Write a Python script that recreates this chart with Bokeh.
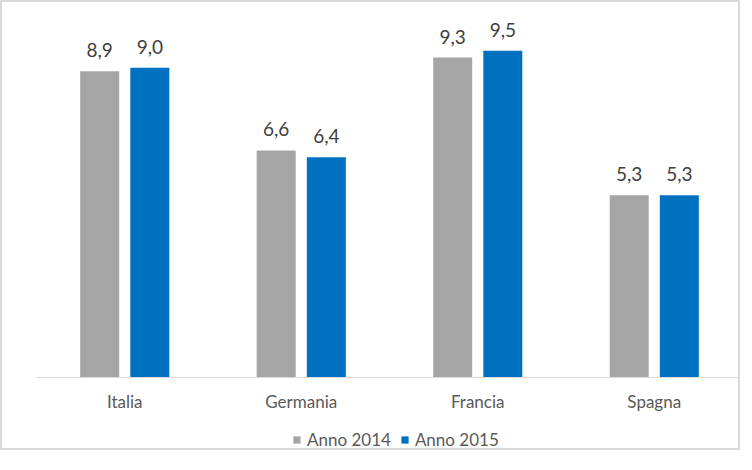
from bokeh.plotting import figure
from bokeh.models import ColumnDataSource, FactorRange, LabelSet, Legend, LegendItem
from bokeh.core.properties import value
from bokeh.transform import dodge
from bokeh.embed import file_html
from bokeh.resources import INLINE

categories = ["Italia", "Germania", "Francia", "Spagna"]
anno_2014 = [8.9, 6.6, 9.3, 5.3]
anno_2015 = [9.0, 6.4, 9.5, 5.3]
series_names = ["Anno 2014", "Anno 2015"]

def fmt(v):
    return f"{v:.1f}".replace(".", ",")

source = ColumnDataSource(data=dict(
    cat=categories,
    v2014=anno_2014,
    v2015=anno_2015,
    l2014=[fmt(v) for v in anno_2014],
    l2015=[fmt(v) for v in anno_2015],
))

FONT = "Lato"
GRAY = "#A5A5A5"
BLUE = "#0070C0"

p = figure(
    x_range=FactorRange(factors=categories, range_padding=0),
    y_range=(-2.18, 10.90),
    width=740, height=450,
    output_backend="svg", toolbar_location=None,
    min_border_left=34, min_border_right=0,
    min_border_top=0, min_border_bottom=0,
    styles={"border": "2px solid #d9d9d9"},
)
p.outline_line_color = None
p.background_fill_color = "white"
p.border_fill_color = "white"
p.xgrid.visible = False
p.ygrid.visible = False
p.yaxis.visible = False

ax = p.xaxis[0]
ax.fixed_location = 0
ax.axis_line_color = "#d9d9d9"
ax.axis_line_width = 1
ax.major_tick_line_color = None
ax.minor_tick_line_color = None
ax.major_tick_in = 0
ax.major_tick_out = 0
ax.major_label_standoff = 13
ax.major_label_text_font = FONT
ax.major_label_text_font_size = "17px"
ax.major_label_text_color = "#595959"

off = 0.142
bw = 0.221
r1 = p.vbar(x=dodge("cat", -off, range=p.x_range), top="v2014", width=bw,
            source=source, fill_color=GRAY, line_color=None)
r2 = p.vbar(x=dodge("cat", off, range=p.x_range), top="v2015", width=bw,
            source=source, fill_color=BLUE, line_color=None)

for field, lab, dx in (("v2014", "l2014", -off), ("v2015", "l2015", off)):
    ls = LabelSet(x=dodge("cat", dx, range=p.x_range), y=field, text=lab, source=source,
                  text_align="center", text_baseline="alphabetic", y_offset=14,
                  text_font=value(FONT), text_font_size=value("19px"),
                  text_color="#404040")
    p.add_layout(ls)

legend = Legend(
    items=[LegendItem(label=series_names[0], renderers=[r1]),
           LegendItem(label=series_names[1], renderers=[r2])],
    orientation="horizontal", location=(256, 2),
    glyph_width=9, glyph_height=9, label_standoff=6, spacing=9,
    padding=0, margin=0, border_line_alpha=0, background_fill_alpha=0,
    label_text_font=FONT, label_text_font_size="17px", label_text_color="#595959",
    label_height=18,
)
p.add_layout(legend)

open("out.html", "w").write(file_html(p, INLINE))
